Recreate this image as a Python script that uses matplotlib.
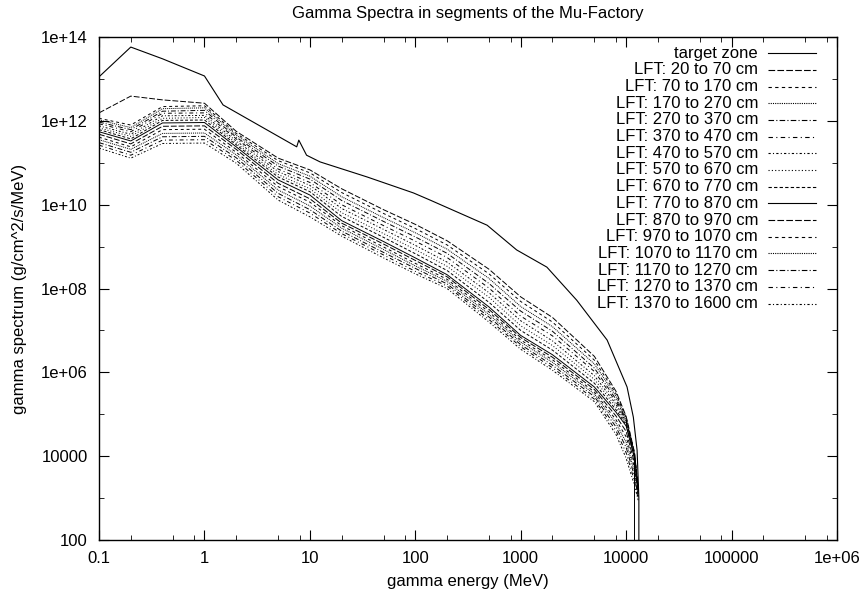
import matplotlib
matplotlib.use("Agg")
import matplotlib.pyplot as plt
import matplotlib.ticker as mticker
from matplotlib.lines import Line2D

plt.rcParams['font.family'] = ['Liberation Sans', 'DejaVu Sans']
plt.rcParams['font.size'] = 12

# target zone spectrum (log10 of flux, None = zero flux)
target_energy = [0.1, 0.2, 0.4, 1, 1.5, 7.5, 7.85, 9.3, 12.5, 35, 96, 138,
                 480, 915, 1770, 3400, 6600, 10200, 11700, 12700, 13200,
                 13300]
target_log = [13.05, 13.76, 13.48, 13.07, 12.38, 11.38, 11.54, 11.18, 11.02,
              10.66, 10.28, 10.11, 9.51, 8.92, 8.51, 7.72, 6.77, 5.65, 4.93,
              4.14, 3.00, None]

# LFT segments, all on the same energy bins
lft_energy = [0.1, 0.2, 0.4, 1, 2, 5, 10, 20, 50, 100, 200, 500, 1000, 2000,
              5000, 8000, 10000, 12000, 13000]

lft_20_70 = [12.19, 12.59, 12.50, 12.42, 11.75, 11.11, 10.83, 10.38, 9.88,
             9.53, 9.14, 8.46, 7.80, 7.31, 6.38, 5.55, 4.95, 4.09, 3.25]
lft_70_170 = [12.06, 11.90, 12.34, 12.36, 11.70, 11.05, 10.76, 10.29, 9.79,
              9.43, 9.04, 8.35, 7.69, 7.20, 6.29, 5.49, 4.92, 4.07, 3.24]
lft_170_270 = [12.02, 11.84, 12.29, 12.31, 11.66, 10.98, 10.68, 10.19, 9.69,
               9.33, 8.94, 8.24, 7.57, 7.09, 6.20, 5.43, 4.89, 4.05, 3.23]
lft_270_370 = [11.97, 11.79, 12.23, 12.25, 11.61, 10.92, 10.61, 10.10, 9.60,
               9.23, 8.84, 8.12, 7.46, 6.98, 6.10, 5.36, 4.86, 4.04, 3.21]
lft_370_470 = [11.93, 11.74, 12.18, 12.19, 11.57, 10.85, 10.53, 10.00, 9.50,
               9.13, 8.74, 8.01, 7.34, 6.87, 6.02, 5.30, 4.84, 4.02, 3.20]
lft_470_570 = [11.88, 11.68, 12.12, 12.13, 11.52, 10.79, 10.46, 9.91, 9.41,
               9.03, 8.63, 7.90, 7.23, 6.75, 5.92, 5.24, 4.81, 4.00, 3.19]
lft_570_670 = [11.83, 11.63, 12.06, 12.08, 11.47, 10.72, 10.38, 9.81, 9.31,
               8.93, 8.53, 7.79, 7.11, 6.64, 5.83, 5.18, 4.78, 3.98, 3.18]
lft_670_770 = [11.79, 11.57, 12.01, 12.02, 11.43, 10.66, 10.31, 9.72, 9.22,
               8.83, 8.43, 7.67, 7.00, 6.53, 5.74, 5.11, 4.75, 3.97, 3.16]
lft_770_870 = [11.74, 11.52, 11.95, 11.96, 11.38, 10.59, 10.23, 9.62, 9.12,
               8.73, 8.33, 7.56, 6.88, 6.42, 5.65, 5.05, 4.72, 3.95, None]
lft_870_970 = [11.68, 11.45, 11.87, 11.88, 11.32, 10.51, 10.14, 9.56, 9.06,
               8.67, 8.28, 7.50, 6.83, 6.36, 5.59, 4.96, 4.59, 3.84, 3.12]
lft_970_1070 = [11.61, 11.38, 11.79, 11.80, 11.25, 10.43, 10.06, 9.50, 8.99,
                8.60, 8.22, 7.44, 6.77, 6.30, 5.53, 4.87, 4.46, 3.73, 3.08]
lft_1070_1170 = [11.55, 11.32, 11.70, 11.71, 11.19, 10.35, 9.97, 9.44, 8.93,
                 8.54, 8.17, 7.38, 6.72, 6.24, 5.48, 4.79, 4.33, 3.63, 3.05]
lft_1170_1270 = [11.48, 11.25, 11.62, 11.63, 11.12, 10.27, 9.88, 9.37, 8.86,
                 8.48, 8.11, 7.32, 6.66, 6.17, 5.42, 4.70, 4.21, 3.52, 3.02]
lft_1270_1370 = [11.42, 11.18, 11.54, 11.55, 11.06, 10.19, 9.80, 9.31, 8.80,
                 8.41, 8.06, 7.26, 6.61, 6.11, 5.36, 4.61, 4.08, 3.41, 2.98]
lft_1370_1600 = [11.35, 11.11, 11.46, 11.47, 10.99, 10.11, 9.71, 9.25, 8.73,
                 8.35, 8.00, 7.20, 6.55, 6.05, 5.30, 4.52, 3.95, 3.30, 2.95]

lft_labels = ["LFT: 20 to 70 cm", "LFT: 70 to 170 cm", "LFT: 170 to 270 cm",
              "LFT: 270 to 370 cm", "LFT: 370 to 470 cm", "LFT: 470 to 570 cm",
              "LFT: 570 to 670 cm", "LFT: 670 to 770 cm", "LFT: 770 to 870 cm",
              "LFT: 870 to 970 cm", "LFT: 970 to 1070 cm",
              "LFT: 1070 to 1170 cm", "LFT: 1170 to 1270 cm",
              "LFT: 1270 to 1370 cm", "LFT: 1370 to 1600 cm"]
lft_series = [lft_20_70, lft_70_170, lft_170_270, lft_270_370, lft_370_470,
              lft_470_570, lft_570_670, lft_670_770, lft_770_870, lft_870_970,
              lft_970_1070, lft_1070_1170, lft_1170_1270, lft_1270_1370,
              lft_1370_1600]

xtick_vals = [0.1, 1, 10, 100, 1000, 10000, 100000, 1e6]
xtick_labels = ["0.1", "1", "10", "100", "1000", "10000", "100000", "1e+06"]
ytick_vals = [1e2, 1e4, 1e6, 1e8, 1e10, 1e12, 1e14]
ytick_labels = ["100", "10000", "1e+06", "1e+08", "1e+10", "1e+12", "1e+14"]

# gnuplot-like cycle of 9 line types
styles = ['-', (0, (6, 2)), (0, (3, 3)), (0, (1, 1)), (0, (5, 2, 1, 2)),
          (0, (4, 3, 1, 3)), (0, (2, 2, 1, 2)), (0, (1, 2)), (0, (3, 2))]


def to_flux(vals):
    return [0.0 if v is None else 10 ** v for v in vals]


fig = plt.figure(figsize=(8.62, 5.94), dpi=100)
ax = fig.add_axes([0.1149, 0.0909, 0.8561, 0.8468])
ax.set_xscale('log')
ax.set_yscale('log', nonpositive='clip')

all_labels = ["target zone"] + lft_labels
ax.plot(target_energy, to_flux(target_log), color='black', lw=0.8,
        linestyle=styles[0])
for i, vals in enumerate(lft_series):
    ax.plot(lft_energy, to_flux(vals), color='black', lw=0.7,
            linestyle=styles[(i + 1) % 9])

ax.set_xlim(0.1, 1e6)
ax.set_ylim(1e2, 1e14)

ax.xaxis.set_major_locator(mticker.FixedLocator(xtick_vals))
ax.xaxis.set_major_formatter(mticker.FixedFormatter(xtick_labels))
ax.xaxis.set_minor_locator(mticker.LogLocator(base=10, subs=[2, 5, 8],
                                              numticks=20))
ax.xaxis.set_minor_formatter(mticker.NullFormatter())
ax.yaxis.set_major_locator(mticker.FixedLocator(ytick_vals))
ax.yaxis.set_major_formatter(mticker.FixedFormatter(ytick_labels))
ax.yaxis.set_minor_locator(mticker.FixedLocator([1e3, 1e5, 1e7, 1e9, 1e11,
                                                 1e13]))
ax.yaxis.set_minor_formatter(mticker.NullFormatter())

ax.tick_params(which='both', direction='in', top=True, right=True,
               labelsize=12)
ax.tick_params(which='major', length=7, width=0.8)
ax.tick_params(which='minor', length=3.5, width=0.6)
ax.tick_params(axis='x', pad=8)
ax.tick_params(axis='y', pad=8)
for s in ax.spines.values():
    s.set_linewidth(1.0)

ax.set_title("Gamma Spectra in segments of the Mu-Factory", fontsize=12,
             pad=14)
ax.set_xlabel("gamma energy (MeV)", fontsize=12, labelpad=6)
ax.set_ylabel("gamma spectrum (g/cm^2/s/MeV)", fontsize=12, labelpad=10)

# key drawn like gnuplot: text right-aligned, sample on the right
for i, lab in enumerate(all_labels):
    yk = 0.968 - i * 0.0332
    ax.text(0.893, yk, lab, transform=ax.transAxes, ha='right', va='center',
            fontsize=12)
    ax.add_line(Line2D([0.906, 0.972], [yk, yk], transform=ax.transAxes,
                       color='black', lw=0.8, linestyle=styles[i % 9]))

fig.savefig("out.png", dpi=100)
